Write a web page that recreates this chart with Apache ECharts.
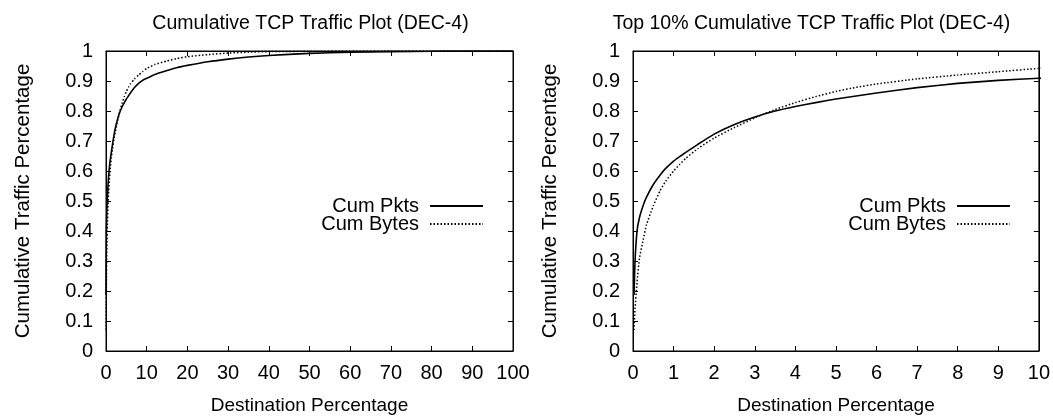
<!DOCTYPE html>
<html>
<head>
<meta charset="utf-8">
<script src="https://cdn.jsdelivr.net/npm/echarts@6/dist/echarts.min.js"></script>
<style>
html,body{margin:0;padding:0;background:#fff;}
#c{width:1053px;height:420px;}
</style>
</head>
<body>
<div id="c"></div>
<script>
// Destination percentage (x) and cumulative traffic fractions
const destPct = [0.025, 0.05, 0.1, 0.16, 0.25, 0.33, 0.5, 0.67, 0.8, 1, 1.15, 1.3, 1.6, 2, 2.5, 3, 3.5, 4, 4.5, 5, 5.5, 6, 7, 8, 9, 10, 12, 15, 17.5, 20, 25, 30, 35, 40, 50, 60, 70, 80, 90, 100];
const cumPkts = [0.187, 0.30, 0.40, 0.445, 0.485, 0.512, 0.555, 0.587, 0.608, 0.633, 0.648, 0.662, 0.689, 0.723, 0.755, 0.78, 0.80, 0.815, 0.828, 0.84, 0.85, 0.86, 0.878, 0.892, 0.902, 0.909, 0.922, 0.935, 0.945, 0.952, 0.964, 0.973, 0.98, 0.985, 0.992, 0.996, 0.998, 0.999, 1.0, 1.0];
const cumBytes = [0.07, 0.14, 0.23, 0.31, 0.37, 0.42, 0.484, 0.535, 0.565, 0.60, 0.622, 0.642, 0.675, 0.71, 0.745, 0.777, 0.805, 0.828, 0.848, 0.865, 0.879, 0.89, 0.907, 0.92, 0.931, 0.942, 0.955, 0.967, 0.975, 0.981, 0.988, 0.993, 0.996, 0.998, 0.999, 1.0, 1.0, 1.0, 1.0, 1.0];
const titles = ['Cumulative TCP Traffic Plot (DEC-4)', 'Top 10% Cumulative TCP Traffic Plot (DEC-4)'];
const xMax = [100, 10];
const xStep = [10, 1];
const seriesNames = ['Cum Pkts', 'Cum Bytes'];

const FONT = 'Liberation Sans, Arial, Helvetica, sans-serif';
const FS = 20;
const grids = [
  {left: 106, top: 51, width: 407, height: 308},
  {left: 633, top: 51, width: 407, height: 308}
];
const titleShift = [-4, -30];
const pair = (xs, ys) => xs.map((x, i) => [x, ys[i]]);

const xAxes = [], yAxes = [], series = [], legends = [], titleOpts = [];
grids.forEach((g, gi) => {
  g.show = true; g.borderColor = '#000'; g.borderWidth = 1; g.backgroundColor = 'transparent';
  const tick = {show: true, inside: true, length: 5, lineStyle: {color: '#000', width: 1}};
  const line = {show: true, onZero: false, lineStyle: {color: '#000', width: 1}};
  xAxes.push({
    type: 'value', gridIndex: gi, min: 0, max: xMax[gi], interval: xStep[gi],
    position: 'bottom',
    name: 'Destination Percentage', nameLocation: 'middle', nameGap: 45,
    nameTextStyle: {fontFamily: FONT, fontSize: 19, color: '#000'},
    axisLine: line, axisTick: tick, splitLine: {show: false},
    axisLabel: {fontFamily: FONT, fontSize: FS, color: '#000', margin: 12}
  });
  xAxes.push({
    type: 'value', gridIndex: gi, min: 0, max: xMax[gi], interval: xStep[gi],
    position: 'top', axisLine: line, axisTick: tick, splitLine: {show: false},
    axisLabel: {show: false}
  });
  yAxes.push({
    type: 'value', gridIndex: gi, min: 0, max: 1, interval: 0.1, position: 'left',
    name: 'Cumulative Traffic Percentage', nameLocation: 'middle', nameGap: 72,
    nameTextStyle: {fontFamily: FONT, fontSize: 20.5, color: '#000'},
    axisLine: line, axisTick: tick, splitLine: {show: false},
    axisLabel: {fontFamily: FONT, fontSize: FS, color: '#000', margin: 13}
  });
  yAxes.push({
    type: 'value', gridIndex: gi, min: 0, max: 1, interval: 0.1, position: 'right',
    axisLine: line, axisTick: tick, splitLine: {show: false},
    axisLabel: {show: false}
  });
  series.push({
    name: seriesNames[0], type: 'line', xAxisIndex: gi * 2, yAxisIndex: gi * 2,
    data: pair(destPct, cumPkts), showSymbol: false, symbol: 'none',
    smooth: 0.15, clip: true,
    lineStyle: {color: '#000', width: 1.6, type: 'solid'}, itemStyle: {color: '#000'}
  });
  series.push({
    name: seriesNames[1], type: 'line', xAxisIndex: gi * 2, yAxisIndex: gi * 2,
    data: pair(destPct, cumBytes), showSymbol: false, symbol: 'none',
    smooth: 0.15, clip: true,
    lineStyle: {color: '#000', width: 1.5, type: [1.5, 2]}, itemStyle: {color: '#000'}
  });
  titleOpts.push({
    text: titles[gi], left: g.left + g.width / 2 + titleShift[gi], top: 9, textAlign: 'center',
    textStyle: {fontFamily: FONT, fontSize: 19.5, fontWeight: 'normal', color: '#000'}
  });
  legends.push({
    data: seriesNames, orient: 'vertical', align: 'right',
    right: 1053 - (g.left + g.width) + 24, top: 191,
    itemWidth: 53, itemHeight: 16, itemGap: -2, selectedMode: false,
    itemStyle: {color: 'transparent', borderWidth: 0, opacity: 0},
    textStyle: {fontFamily: FONT, fontSize: FS, color: '#000', lineHeight: 16, padding: [0, 6, 0, 0]}
  });
});

const chart = echarts.init(document.getElementById('c'), null, {renderer: 'canvas'});
chart.setOption({
  animation: false,
  backgroundColor: '#fff',
  title: titleOpts,
  grid: grids,
  xAxis: xAxes,
  yAxis: yAxes,
  legend: legends,
  series: series
});
</script>
</body>
</html>
